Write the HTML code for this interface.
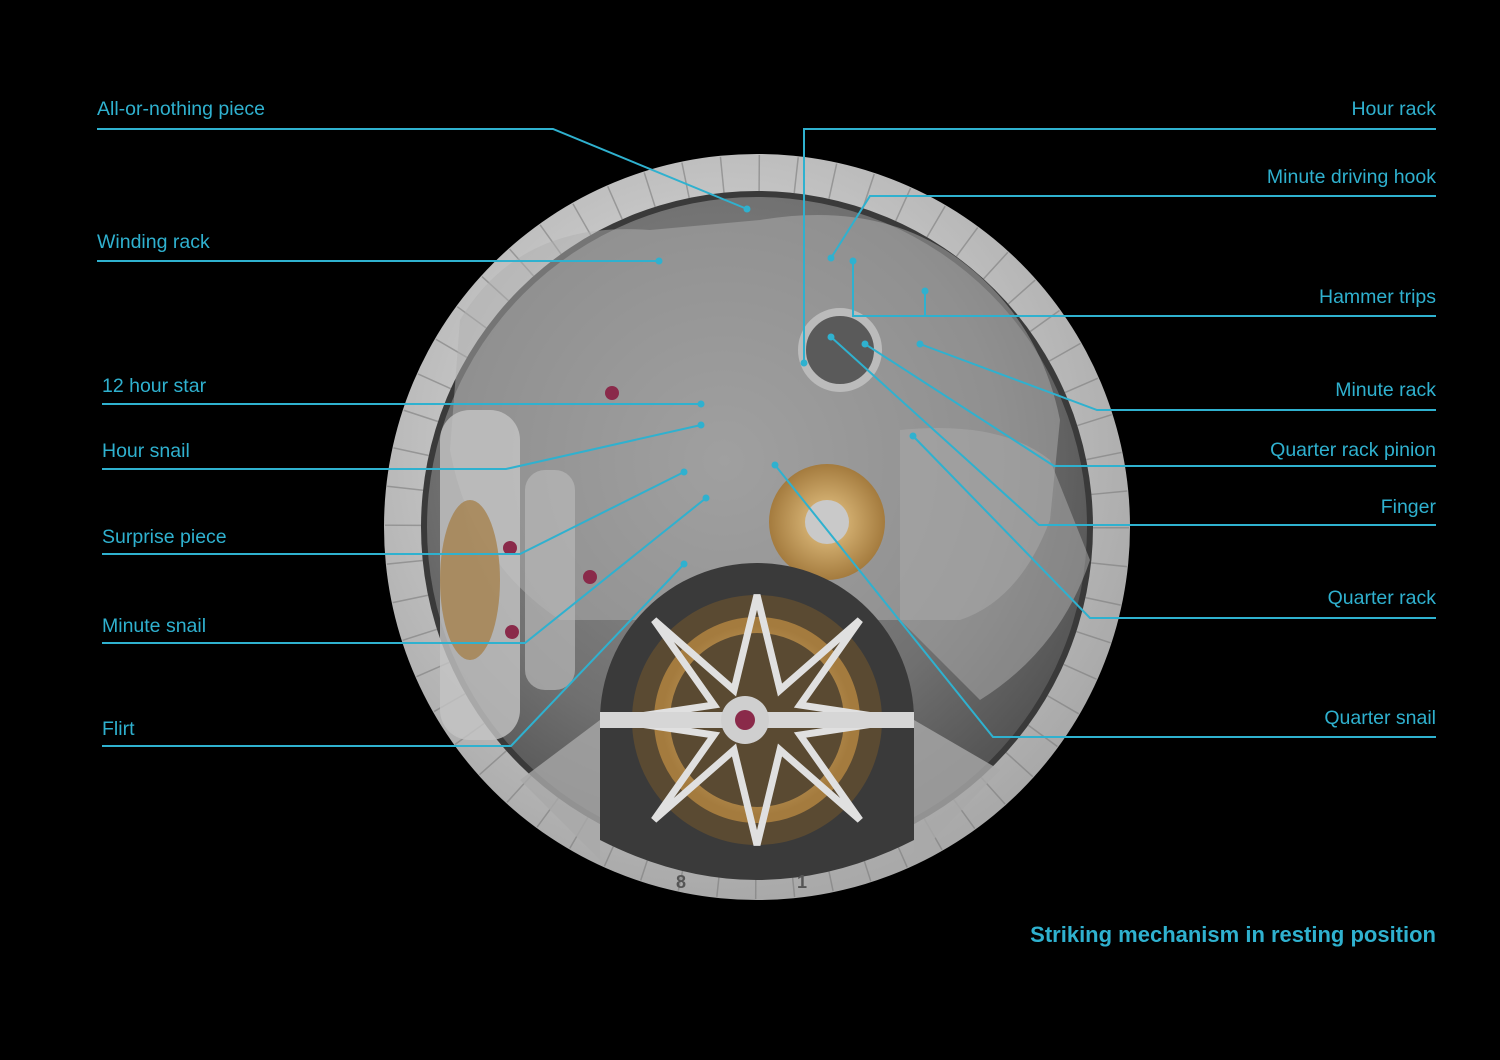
<!DOCTYPE html>
<html><head><meta charset="utf-8"><style>
html,body{margin:0;padding:0;background:#000;width:1500px;height:1060px;overflow:hidden}
svg{display:block}
text{font-family:"Liberation Sans",sans-serif;fill:#2fb1cf;font-size:19.5px}
</style></head><body>
<svg width="1500" height="1060" viewBox="0 0 1500 1060">
<defs>
<radialGradient id="ring" cx="0.45" cy="0.4" r="0.6">
<stop offset="0" stop-color="#e8e8e8"/><stop offset="1" stop-color="#a9a9a9"/>
</radialGradient>
<radialGradient id="plate" cx="0.45" cy="0.4" r="0.6">
<stop offset="0" stop-color="#909090"/><stop offset="0.7" stop-color="#707070"/><stop offset="1" stop-color="#555"/>
</radialGradient>
<radialGradient id="gold" cx="0.5" cy="0.5" r="0.5">
<stop offset="0" stop-color="#e9c889"/><stop offset="1" stop-color="#a47b3e"/>
</radialGradient>
</defs>
<rect width="1500" height="1060" fill="#000"/>
<circle cx="757" cy="527" r="373" fill="url(#ring)"/>
<circle cx="757" cy="527" r="354" fill="none" stroke="#7c7c7c" stroke-width="36" stroke-dasharray="1.5 35.6" opacity="0.6"/>
<circle cx="757" cy="527" r="336" fill="#3a3a3a"/>
<circle cx="757" cy="527" r="330" fill="url(#plate)"/>
<path d="M460 320 Q520 220 650 230 L760 220 Q880 200 960 260 Q1040 320 1060 420 L1050 520 Q1020 600 960 620 L560 620 Q470 560 450 450 Z" fill="#b0b0b0" opacity="0.5"/>
<rect x="440" y="410" width="80" height="330" rx="30" fill="#c4c4c4" opacity="0.8"/>
<rect x="525" y="470" width="50" height="220" rx="20" fill="#b8b8b8" opacity="0.7"/>
<circle cx="827" cy="522" r="58" fill="url(#gold)"/>
<circle cx="827" cy="522" r="22" fill="#c9c9c9"/>
<circle cx="840" cy="350" r="38" fill="#5a5a5a" stroke="#bbb" stroke-width="8"/>
<path d="M900 430 Q1000 420 1050 460 L1090 560 Q1060 650 980 700 L900 620 Z" fill="#a9a9a9" opacity="0.55"/>
<ellipse cx="470" cy="580" rx="30" ry="80" fill="#a47b3e" opacity="0.7"/>
<circle cx="510" cy="548" r="7" fill="#8a2a4a"/><circle cx="512" cy="632" r="7" fill="#8a2a4a"/>
<circle cx="590" cy="577" r="7" fill="#8a2a4a"/><circle cx="612" cy="393" r="7" fill="#8a2a4a"/>
<path d="M600 720 A157 157 0 0 1 914 720 L914 840 Q757 920 600 840 Z" fill="#3a3a3a"/>
<circle cx="757" cy="720" r="125" fill="#5a4a32"/>
<circle cx="757" cy="720" r="95" fill="none" stroke="url(#gold)" stroke-width="16"/>
<path d="M757 595 L780 690 L860 620 L800 705 L900 720 L800 735 L860 820 L780 750 L757 845 L734 750 L654 820 L714 735 L614 720 L714 705 L654 620 L734 690 Z" fill="none" stroke="#e0e0e0" stroke-width="7"/>
<rect x="600" y="712" width="314" height="16" fill="#d6d6d6"/>
<circle cx="745" cy="720" r="24" fill="#cfcfcf"/><circle cx="745" cy="720" r="10" fill="#8a2a4a"/>
<path d="M600 720 L600 860 L520 780 Z" fill="#a9a9a9" opacity="0.8"/>
<path d="M914 720 L914 860 L1000 770 Z" fill="#a9a9a9" opacity="0.8"/>
<text x="676" y="888" style="fill:#555;font-size:18px;font-weight:bold">8</text>
<text x="797" y="888" style="fill:#555;font-size:18px;font-weight:bold">1</text>
<g fill="none" stroke="#2fb1cf" stroke-width="2">
<polyline points="97,129 553,129 747,209"/>
<polyline points="97,261 659,261"/>
<polyline points="102,404 701,404"/>
<polyline points="102,469 506,469 701,425"/>
<polyline points="102,554 520,554 684,472"/>
<polyline points="102,643 525,643 706,498"/>
<polyline points="102,746 511,746 684,564"/>
<polyline points="1436,129 804,129 804,363"/>
<polyline points="1436,196 870,196 831,258"/>
<polyline points="1436,316 853,316 853,261"/>
<polyline points="925,316 925,291"/>
<polyline points="1436,410 1097,410 920,344"/>
<polyline points="1436,466 1054,466 865,344"/>
<polyline points="1436,525 1039,525 831,337"/>
<polyline points="1436,618 1090,618 913,436"/>
<polyline points="1436,737 993,737 775,465"/>
</g>
<g fill="#2fb1cf">
<circle cx="747" cy="209" r="3.5"/><circle cx="659" cy="261" r="3.5"/><circle cx="701" cy="404" r="3.5"/>
<circle cx="701" cy="425" r="3.5"/><circle cx="684" cy="472" r="3.5"/><circle cx="706" cy="498" r="3.5"/>
<circle cx="684" cy="564" r="3.5"/><circle cx="804" cy="363" r="3.5"/><circle cx="831" cy="258" r="3.5"/>
<circle cx="853" cy="261" r="3.5"/><circle cx="925" cy="291" r="3.5"/><circle cx="920" cy="344" r="3.5"/>
<circle cx="865" cy="344" r="3.5"/><circle cx="831" cy="337" r="3.5"/><circle cx="913" cy="436" r="3.5"/>
<circle cx="775" cy="465" r="3.5"/>
</g>
<text x="97" y="115">All-or-nothing piece</text>
<text x="97" y="248">Winding rack</text>
<text x="102" y="392">12 hour star</text>
<text x="102" y="457">Hour snail</text>
<text x="102" y="543">Surprise piece</text>
<text x="102" y="632">Minute snail</text>
<text x="102" y="735">Flirt</text>
<g text-anchor="end">
<text x="1436" y="115">Hour rack</text>
<text x="1436" y="183">Minute driving hook</text>
<text x="1436" y="303">Hammer trips</text>
<text x="1436" y="396">Minute rack</text>
<text x="1436" y="456">Quarter rack pinion</text>
<text x="1436" y="513">Finger</text>
<text x="1436" y="604">Quarter rack</text>
<text x="1436" y="724">Quarter snail</text>
<text x="1436" y="942" style="font-size:22px;font-weight:bold">Striking mechanism in resting position</text>
</g>
</svg>
</body></html>
